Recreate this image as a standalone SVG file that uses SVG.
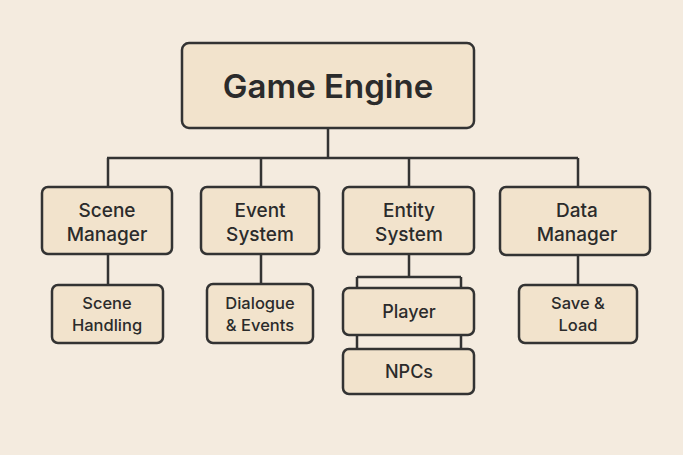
<svg xmlns="http://www.w3.org/2000/svg" width="683" height="455" viewBox="0 0 683 455">
<style>
.box{fill:#f2e3cc;stroke:#333;stroke-width:2.5}
.ln{fill:none;stroke:#333;stroke-width:2.5}
text{font-family:Inter,"Liberation Sans",sans-serif;fill:#2b2b2b;text-anchor:middle;font-weight:500}
.t1{font-size:33px;font-weight:600}
.t2{font-size:19px}
.t3{font-size:16.5px}
.t4{font-size:18px}
</style>
<rect width="683" height="455" fill="#f4ebdf"/>
<g id="connectors">
<path class="ln" d="M328 128V158M107 158H578M108 158V187M261 158V187M409 158V187M578 158V187"/>
<path class="ln" d="M108 254V285M261 254V284M578 255V285"/>
<path class="ln" d="M409 254V277M357 277H461M357 277V288M461 277V288M357 335V349M461 335V349"/>
</g>
<g id="game-engine"><rect class="box" x="182" y="43" width="292" height="85" rx="7"/><text class="t1" x="328" y="98">Game Engine</text></g>
<g id="scene-manager"><rect class="box" x="42" y="187" width="130" height="67" rx="6"/><text class="t2" x="107" y="217">Scene</text><text class="t2" x="107" y="241">Manager</text></g>
<g id="event-system"><rect class="box" x="201" y="187" width="118" height="67" rx="6"/><text class="t2" x="260" y="217">Event</text><text class="t2" x="260" y="241">System</text></g>
<g id="entity-system"><rect class="box" x="343" y="187" width="131" height="67" rx="6"/><text class="t2" x="409" y="217">Entity</text><text class="t2" x="409" y="241">System</text></g>
<g id="data-manager"><rect class="box" x="500" y="187" width="150" height="68" rx="6"/><text class="t2" x="577" y="217">Data</text><text class="t2" x="577" y="241">Manager</text></g>
<g id="scene-handling"><rect class="box" x="52" y="285" width="111" height="58" rx="6"/><text class="t3" x="107" y="309">Scene</text><text class="t3" x="107" y="331">Handling</text></g>
<g id="dialogue-events"><rect class="box" x="207" y="284" width="106" height="59" rx="6"/><text class="t3" x="260" y="309">Dialogue</text><text class="t3" x="260" y="331">&amp; Events</text></g>
<g id="player"><rect class="box" x="343" y="288" width="131" height="47" rx="6"/><text class="t4" x="409" y="318">Player</text></g>
<g id="npcs"><rect class="box" x="343" y="349" width="131" height="45" rx="6"/><text class="t4" x="409" y="378">NPCs</text></g>
<g id="save-load"><rect class="box" x="519" y="285" width="118" height="58" rx="6"/><text class="t3" x="578" y="309">Save &amp;</text><text class="t3" x="578" y="331">Load</text></g>
</svg>
